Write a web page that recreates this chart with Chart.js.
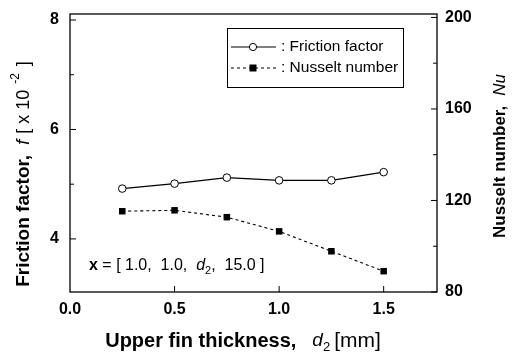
<!DOCTYPE html>
<html>
<head>
<meta charset="utf-8">
<script src="https://cdn.jsdelivr.net/npm/chart.js@4.4.1/dist/chart.umd.min.js"></script>
<style>
  body { margin: 0; background: #fff; }
  #wrap { width: 518px; height: 363px; }
</style>
</head>
<body>
<div id="wrap"><canvas id="myChart" width="518" height="363"></canvas></div>
<script>
// data
const thickness = [0.25, 0.5, 0.75, 1.0, 1.25, 1.5];
const frictionFactor = [4.92, 5.01, 5.12, 5.07, 5.07, 5.22];
const nusseltNumber = [115.3, 115.7, 112.7, 106.5, 97.8, 89.1];

const xTicks = [0.0, 0.5, 1.0, 1.5];
const fTicks = [4, 6, 8];
const fMinor = [5, 7];
const nuTicks = [80, 120, 160, 200];
const nuMinor = [100, 140, 180];

const FONT = '"Liberation Sans", Arial, sans-serif';

// parts: [text, font, dy] or a number = gap in px
function drawRich(ctx, parts, cx, cy) {
    let total = 0;
    parts.forEach(p => {
        if (typeof p === 'number') { total += p; return; }
        ctx.font = p[1]; total += ctx.measureText(p[0]).width;
    });
    let x = cx - total / 2;
    parts.forEach(p => {
        if (typeof p === 'number') { x += p; return; }
        ctx.font = p[1];
        ctx.fillText(p[0], x, cy + (p[2] || 0));
        x += ctx.measureText(p[0]).width;
    });
}

// keep the plot box where it is in the figure
function noPad(s) {
    s.paddingTop = 0; s.paddingBottom = 0;
    s.paddingLeft = 0; s.paddingRight = 0;
}

const extras = {
    id: 'extras',
    afterDraw(chart) {
        const ctx = chart.ctx;
        const a = chart.chartArea;
        const xs = chart.scales.x, yl = chart.scales.y, yr = chart.scales.y1;
        ctx.save();
        ctx.strokeStyle = '#000';
        ctx.fillStyle = '#000';
        ctx.lineWidth = 1.3;
        // frame
        ctx.strokeRect(a.left, a.top, a.right - a.left, a.bottom - a.top);

        // inward ticks
        ctx.lineWidth = 1;
        ctx.beginPath();
        xTicks.forEach(v => {
            if (v === 0) return;
            const px = xs.getPixelForValue(v);
            ctx.moveTo(px, a.bottom); ctx.lineTo(px, a.bottom - 6);
        });
        fTicks.forEach(v => {
            const py = yl.getPixelForValue(v);
            ctx.moveTo(a.left, py); ctx.lineTo(a.left + 6, py);
        });
        fMinor.forEach(v => {
            const py = yl.getPixelForValue(v);
            ctx.moveTo(a.left, py); ctx.lineTo(a.left + 4, py);
        });
        nuTicks.forEach(v => {
            const py = yr.getPixelForValue(v);
            ctx.moveTo(a.right, py); ctx.lineTo(a.right - 6, py);
        });
        nuMinor.forEach(v => {
            const py = yr.getPixelForValue(v);
            ctx.moveTo(a.right, py); ctx.lineTo(a.right - 4, py);
        });
        ctx.stroke();

        // axis titles
        ctx.textBaseline = 'middle';
        drawRich(ctx, [
            ['Upper fin thickness,', 'bold 20px ' + FONT], 16,
            ['d', 'italic 19px ' + FONT],
            ['2', '13px ' + FONT, 6], 4,
            ['[mm]', '21px ' + FONT]
        ], 243, 341);

        ctx.save();
        ctx.translate(24, 174);
        ctx.rotate(-Math.PI / 2);
        drawRich(ctx, [
            ['Friction factor,', 'bold 19px ' + FONT], 10,
            ['f', 'italic 18px ' + FONT], 6,
            ['[ x 10', '18px ' + FONT], 6,
            ['-2', '12px ' + FONT, -8], 7,
            [']', '18px ' + FONT]
        ], 0, 0);
        ctx.restore();

        ctx.save();
        ctx.translate(500, 156);
        ctx.rotate(-Math.PI / 2);
        drawRich(ctx, [
            ['Nusselt number,', 'bold 17px ' + FONT], 10,
            ['Nu', 'italic 17px ' + FONT]
        ], 0, 0);
        ctx.restore();

        // parameter note
        ctx.textAlign = 'left';
        let x = 89;
        const yN = 266;
        const note = [
            ['x', 'bold 16px ' + FONT, 0],
            [' = [ 1.0,  1.0,  ', '16px ' + FONT, 0],
            ['d', 'italic 16px ' + FONT, 0],
            ['2', '11px ' + FONT, 5],
            [',  15.0 ]', '16px ' + FONT, 0]
        ];
        note.forEach(p => {
            ctx.font = p[1];
            ctx.fillText(p[0], x, yN + p[2]);
            x += ctx.measureText(p[0]).width;
        });

        // legend box
        ctx.lineWidth = 1;
        ctx.strokeRect(227.5, 28.5, 176, 59);
        ctx.font = '15.5px ' + FONT;
        // friction row
        ctx.beginPath();
        ctx.moveTo(231, 47); ctx.lineTo(276, 47);
        ctx.stroke();
        ctx.beginPath();
        ctx.fillStyle = '#fff';
        ctx.arc(253, 47, 3.6, 0, Math.PI * 2);
        ctx.fill(); ctx.stroke();
        ctx.fillStyle = '#000';
        ctx.fillText(': Friction factor', 281, 47);
        // nusselt row
        ctx.setLineDash([3, 3]);
        ctx.beginPath();
        ctx.moveTo(231, 68); ctx.lineTo(276, 68);
        ctx.stroke();
        ctx.setLineDash([]);
        ctx.fillRect(249.5, 64.5, 7, 7);
        ctx.fillText(': Nusselt number', 281, 68);

        ctx.restore();
    }
};

const ctx = document.getElementById('myChart').getContext('2d');

const myChart = new Chart(ctx, {
    type: 'line',
    data: {
        datasets: [{
            label: 'Friction factor',
            data: thickness.map((t, i) => ({ x: t, y: frictionFactor[i] })),
            yAxisID: 'y',
            borderColor: '#000',
            borderWidth: 1.3,
            backgroundColor: '#fff',
            pointStyle: 'circle',
            pointRadius: 3.8,
            pointBorderWidth: 1,
            pointBorderColor: '#000',
            pointBackgroundColor: '#fff',
            tension: 0
        }, {
            label: 'Nusselt number',
            data: thickness.map((t, i) => ({ x: t, y: nusseltNumber[i] })),
            yAxisID: 'y1',
            borderColor: '#000',
            borderWidth: 1.1,
            borderDash: [3, 3],
            pointStyle: 'rect',
            pointRadius: 4.6,
            pointBorderWidth: 0,
            pointBackgroundColor: '#000',
            tension: 0
        }]
    },
    options: {
        responsive: false,
        animation: false,
        events: [],
        layout: { padding: { top: 14, left: 0, right: 0, bottom: 0 } },
        plugins: {
            legend: { display: false },
            tooltip: { enabled: false }
        },
        scales: {
            x: {
                type: 'linear',
                min: 0,
                max: 1.755,
                grid: { display: false, drawTicks: false },
                border: { display: false },
                afterBuildTicks: s => { s.ticks = xTicks.map(v => ({ value: v })); },
                afterFit: s => { s.height = 71; noPad(s); },
                ticks: {
                    padding: 8,
                    color: '#000',
                    maxRotation: 0,
                    font: { family: FONT, size: 16, weight: 'bold' },
                    callback: v => v.toFixed(1)
                }
            },
            y: {
                position: 'left',
                min: 3.03,
                max: 8.11,
                grid: { display: false, drawTicks: false },
                border: { display: false },
                afterBuildTicks: s => { s.ticks = fTicks.map(v => ({ value: v })); },
                afterFit: s => { s.width = 70; noPad(s); },
                ticks: {
                    padding: 11,
                    color: '#000',
                    font: { family: FONT, size: 16, weight: 'bold' },
                    callback: v => String(v)
                }
            },
            y1: {
                position: 'right',
                min: 80,
                max: 201.5,
                grid: { display: false, drawTicks: false },
                border: { display: false },
                afterBuildTicks: s => { s.ticks = nuTicks.map(v => ({ value: v })); },
                afterFit: s => { s.width = 81; noPad(s); },
                ticks: {
                    padding: 8,
                    color: '#000',
                    font: { family: FONT, size: 16, weight: 'bold' },
                    callback: v => String(v)
                }
            }
        }
    },
    plugins: [extras]
});
</script>
</body>
</html>
